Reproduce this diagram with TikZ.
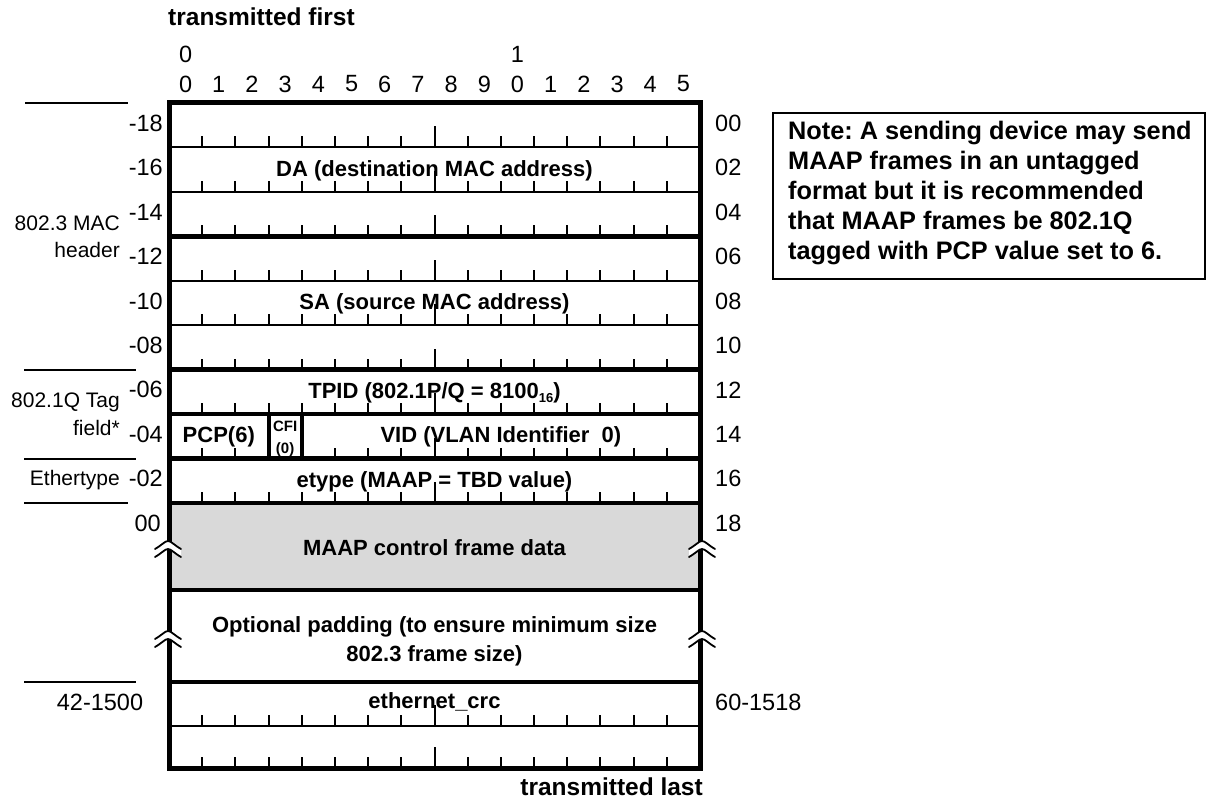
\documentclass[tikz,border=0pt]{standalone}
\usepackage{fontspec}
\setmainfont{Liberation Sans}
\definecolor{datagray}{HTML}{D9D9D9}
\frenchspacing
\begin{document}
\begin{tikzpicture}[x=1pt,y=-1pt,
  num/.style={font=\fontsize{23.5}{26}\selectfont, inner sep=0pt},
  sidelbl/.style={font=\fontsize{21}{26}\selectfont, inner sep=0pt, align=right, anchor=east},
  fld/.style={font=\bfseries\fontsize{22}{29}\selectfont, inner sep=0pt, align=center},
  head/.style={font=\bfseries\fontsize{24.5}{28}\selectfont, inner sep=0pt},
  smallfld/.style={font=\bfseries\fontsize{15}{16}\selectfont, inner sep=0pt},
  framebox/.style={line width=5pt},
  thicksep/.style={line width=4.5pt},
  thinsep/.style={line width=2pt},
  tickline/.style={line width=2pt},
  guide/.style={line width=1.8pt},
  brk/.pic={
    \fill[white] (-13,-1) .. controls (-6,-5) and (-3,-9) .. (0,-9) .. controls (3,-9) and (6,-5) .. (13,-1)
       -- (13,7) .. controls (6,3) and (3,-1) .. (0,-1) .. controls (-3,-1) and (-6,3) .. (-13,7) -- cycle;
    \draw[line width=1.8pt, line cap=round] (-13,-1) .. controls (-6,-5) and (-3,-9) .. (0,-9) .. controls (3,-9) and (6,-5) .. (13,-1);
    \draw[line width=1.8pt, line cap=round] (-13,7) .. controls (-6,3) and (-3,-1) .. (0,-1) .. controls (3,-1) and (6,3) .. (13,7);
  }
]
\useasboundingbox (0,0) rectangle (1207,799);
\def\L{169}\def\R{700}\def\b{33.1875}
% gray data area
\fill[datagray] (\L,503) rectangle (\R,590);
% separators
\foreach \yy in {147.4,191.9,280.8,325.2,726} \draw[thinsep] (\L,\yy) -- (\R,\yy);
\foreach \yy in {236.3,369.7,414.1,458.6,503,590,682} \draw[thicksep] (\L,\yy) -- (\R,\yy);
% PCP / CFI / VID dividers
\draw[line width=4pt] ({\L+3*\b},414.1) -- ({\L+3*\b},458.6);
\draw[line width=4pt] ({\L+4*\b},414.1) -- ({\L+4*\b},458.6);
% header
\node[head, anchor=west] (tfirst) at (168,17) {transmitted first};
\node[num] (hi0) at ({\L+0.5*\b},54) {0};
\node[num] (hi1) at ({\L+10.5*\b},54) {1};
\foreach \i in {0,...,15} {
  \pgfmathtruncatemacro{\d}{mod(\i,10)}
  \node[num] (bit\i) at ({\L+(\i+0.5)*\b},84) {\d};
}
% left offsets
\foreach \t/\yy [count=\k] in {-18/123.2,-16/167.6,-14/212.1,-12/256.5,-10/301,-08/345.4,-06/389.9,-04/434.3,-02/478.8} {
  \node[num, anchor=east] (lo\k) at (163,\yy) {\t};
}
\node[num, anchor=east] (lo10) at (161,523) {00};
% right offsets
\foreach \t/\yy [count=\k] in {00/123.2,02/167.6,04/212.1,06/256.5,08/301,10/345.4,12/389.9,14/434.3,16/478.8,18/523} {
  \node[num, anchor=west] (ro\k) at (715,\yy) {\t};
}
\node[num] (lo11) at (100,702) {42-1500};
\node[num, anchor=west] (ro11) at (715,702) {60-1518};
% side labels
\node[sidelbl] (mac1) at (120,223) {802.3 MAC};
\node[sidelbl] (mac2) at (120,250) {header};
\node[sidelbl] (tag1) at (120,402) {802.1Q Tag};
\node[sidelbl] (tag2) at (120,428) {field*};
\node[sidelbl] (eth) at (120,480) {Ethertype};
\coordinate (g1a) at (25,103);  \coordinate (g1b) at (128,103);
\coordinate (g2a) at (24,369.7); \coordinate (g2b) at (136,369.7);
\coordinate (g3a) at (24,458.6); \coordinate (g3b) at (136,458.6);
\coordinate (g4a) at (24,503);  \coordinate (g4b) at (128,503);
\coordinate (g5a) at (24,682);  \coordinate (g5b) at (136,682);
\foreach \n in {1,...,5} \draw[guide] (g\n a) -- (g\n b);
% field texts
\node[fld] (da) at (434.5,170.6) {DA (destination MAC address)};
\node[fld] (sa) at (434.5,304) {SA (source MAC address)};
\node[fld] (tpid) at (434.5,392.9) {TPID (802.1P/Q = 8100\raisebox{-0.35ex}{\fontsize{13}{13}\selectfont 16})};
\node[fld] (pcp) at ({\L+1.5*\b},437.3) {PCP(6)};
\node[smallfld] (cfi1) at ({\L+3.5*\b},426) {CFI};
\node[smallfld] (cfi2) at ({\L+3.5*\b},450) {(0)};
\node[fld] (vid) at (500.9,437.3) {VID (VLAN Identifier\ \ 0)};
\node[fld] (etype) at (434.5,481.8) {etype (MAAP = TBD value)};
\node[fld] (data) at (434.5,548) {MAAP control frame data};
\node[fld] (pad) at (434.5,641) {Optional padding (to ensure minimum size\\802.3 frame size)};
\node[fld] (crc) at (434.5,702) {ethernet\_crc};
\node[head, anchor=east] (tlast) at (703,787) {transmitted last};
% ticks
\foreach \yy in {147.4,191.9,236.3,280.8,325.2,369.7,414.1,503,726,768} {
  \foreach \i in {1,...,15} {
    \pgfmathsetmacro{\h}{ifthenelse(\i==8,21,11)}
    \draw[tickline] ({\L+\i*\b},\yy) -- ++(0,-\h);
  }
}
\foreach \i in {1,2,5,6,7,8,9,10,11,12,13,14,15} {
  \pgfmathsetmacro{\h}{ifthenelse(\i==8,21,11)}
  \draw[tickline] ({\L+\i*\b},458.6) -- ++(0,-\h);
}
% frame
\draw[framebox] (\L,103) rectangle (\R,768);
% breaks
\pic (brk1) at (168,550) {brk};
\pic (brk2) at (168,640) {brk};
\pic (brk3) at (702,550) {brk};
\pic (brk4) at (702,640) {brk};
% note
\node[draw, line width=2pt, minimum width=432pt, minimum height=166pt, inner sep=0pt] (notebox) at (989,196) {};
\node[font=\bfseries\fontsize{25.3}{30}\selectfont, align=left, anchor=west, inner sep=0pt]
  (note) at (788,193) {Note: A sending device may send\\MAAP frames in an untagged\\format but it is recommended\\that MAAP frames be 802.1Q\\tagged with PCP value set to 6.};
\end{tikzpicture}
\end{document}
